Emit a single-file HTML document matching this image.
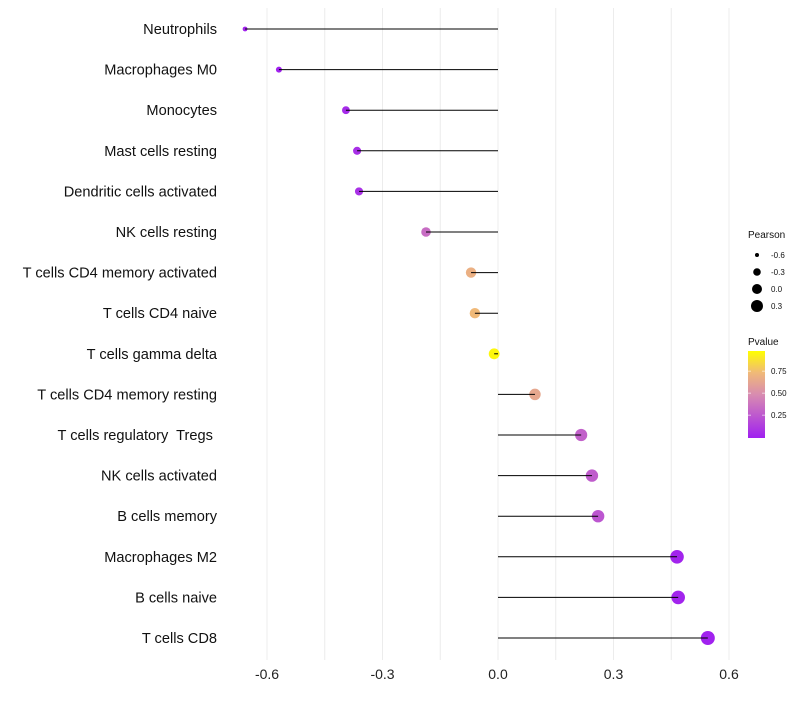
<!DOCTYPE html>
<html><head><meta charset="utf-8"><style>
body{margin:0;background:#fff;font-family:"Liberation Sans",sans-serif}
</style></head><body>
<svg id="chart" width="800" height="700" xmlns="http://www.w3.org/2000/svg"></svg>
<script>
const categories=["Neutrophils","Macrophages M0","Monocytes","Mast cells resting","Dendritic cells activated","NK cells resting","T cells CD4 memory activated","T cells CD4 naive","T cells gamma delta","T cells CD4 memory resting","T cells regulatory  Tregs ","NK cells activated","B cells memory","Macrophages M2","B cells naive","T cells CD8"];
const pearson=[-0.657,-0.569,-0.395,-0.366,-0.361,-0.187,-0.070,-0.060,-0.010,0.096,0.216,0.244,0.260,0.465,0.468,0.545];
const pvalue=[0.02,0.01,0.05,0.07,0.08,0.35,0.70,0.75,0.97,0.65,0.30,0.28,0.25,0.02,0.02,0.01];
const xTicks=[-0.6,-0.3,0.0,0.3,0.6];
const xTickLabels=["-0.6","-0.3","0.0","0.3","0.6"];
const sizeLegend=[-0.6,-0.3,0.0,0.3];
const pTicks=[0.25,0.5,0.75];
const pTickLabels=["0.25","0.50","0.75"];
const svg=document.getElementById('chart');
const NS="http://www.w3.org/2000/svg";
const x=v=>498+v*385;
const y=i=>29+i*40.6;
const rad=v=>Math.sqrt(Math.max(2.5,29.5+35.9*v));
const legRad=v=>Math.sqrt(Math.max(4,22+15.6*v*2));
function col(p){
  const stops=[[0,[160,32,240]],[0.5,[216,140,176]],[0.75,[240,185,120]],[1,[255,255,0]]];
  for(let k=1;k<stops.length;k++){if(p<=stops[k][0]){const a=stops[k-1],b=stops[k];const t=(p-a[0])/(b[0]-a[0]);
    return 'rgb('+a[1].map((c,j)=>Math.round(c+(b[1][j]-c)*t)).join(',')+')';}}
  return 'rgb(255,255,0)';
}
function mk(tag,attrs,text){const e=document.createElementNS(NS,tag);for(const k in attrs)e.setAttribute(k,attrs[k]);if(text!==undefined)e.textContent=text;svg.appendChild(e);return e;}
for(let k=-4;k<=4;k++){const v=k*0.15;const e=mk('line',{x1:x(v),x2:x(v),y1:8,y2:660,stroke:'#ececec','stroke-width':1});

}
xTicks.forEach((v,i)=>{const t=mk('text',{x:x(v),y:679,'text-anchor':'middle','font-size':14,fill:'#222'},xTickLabels[i]);

});
categories.forEach((c,i)=>{
  const t=mk('text',{x:217,y:y(i)+5,'text-anchor':'end','font-size':14.6,fill:'#111','xml:space':'preserve',style:'white-space:pre'},c);
  
  
  const d=mk('circle',{cx:x(pearson[i]),cy:y(i),r:rad(pearson[i]),fill:col(pvalue[i])});
  
  
  const l=mk('line',{x1:x(0),x2:x(pearson[i]),y1:y(i),y2:y(i),stroke:'#000','stroke-width':1});
  
  
});
const lt=mk('text',{x:748,y:238,'font-size':10,fill:'#111'},'Pearson');


sizeLegend.forEach((v,i)=>{const cy=255+i*17;
  const c=mk('circle',{cx:757,cy:cy,r:[2,3.8,5,6][i],fill:'#000'});
  
  
  const t=mk('text',{x:771,y:cy+3,'font-size':8,fill:'#111'},(v===0?'0.0':v.toFixed(1)));
  
  });
const ct=mk('text',{x:748,y:345,'font-size':10,fill:'#111'},'Pvalue');


const defs=mk('defs',{});
const g=document.createElementNS(NS,'linearGradient');g.setAttribute('id','pg');g.setAttribute('x1','0');g.setAttribute('y1','1');g.setAttribute('x2','0');g.setAttribute('y2','0');
[0,0.25,0.5,0.75,1].forEach(s=>{const st=document.createElementNS(NS,'stop');st.setAttribute('offset',s);st.setAttribute('stop-color',col(s));g.appendChild(st);});
defs.appendChild(g);
const py=p=>438-(p+0.01)*88;
const bar=mk('rect',{x:748,y:351,width:17,height:87,fill:'url(#pg)'});


pTicks.forEach((p,i)=>{
  mk('line',{x1:748,x2:751,y1:py(p),y2:py(p),stroke:'#fff','stroke-width':0.6});
  mk('line',{x1:762,x2:765,y1:py(p),y2:py(p),stroke:'#fff','stroke-width':0.6});
  const t=mk('text',{x:771,y:py(p)+3,'font-size':8,fill:'#111'},pTickLabels[i]);
  
  
});
</script>
</body></html>
